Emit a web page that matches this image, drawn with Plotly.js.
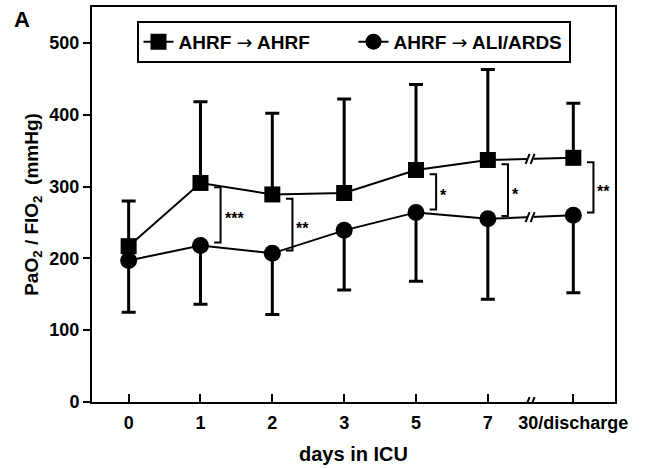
<!DOCTYPE html>
<html>
<head>
<meta charset="utf-8">
<script src="https://cdn.plot.ly/plotly-3.0.1.min.js"></script>
<style>html,body{margin:0;padding:0;background:#fff;}#chart{width:654px;height:469px;}</style>
</head>
<body>
<div id="chart"></div>
<script>
// Category labels and their axis positions (broken axis before the last one)
const dayLabels = ["0", "1", "2", "3", "5", "7", "30/discharge"];
const dayPos = [0, 1, 2, 3, 4, 5, 6.19];

// Series names
const seriesNames = ["AHRF \u2192 AHRF", "AHRF \u2192 ALI/ARDS"];

// AHRF -> AHRF (mean, SD drawn upward)
const ahrfMean = [217, 305, 289, 291, 323, 337, 340];
const ahrfSD   = [63, 113, 113, 131, 119, 126, 76];

// AHRF -> ALI/ARDS (mean, SD drawn downward)
const ardsMean = [197, 218, 207, 239, 264, 255, 260];
const ardsSD   = [72, 82, 85, 83, 96, 112, 108];

// Significance marks per day
const sigLabels = ["", "***", "**", "", "*", "*", "**"];

const FONT = "Liberation Sans, Arial, sans-serif";
const zeros = dayPos.map(() => 0);
const arrowStyled = s => s.replace("\u2192", '<span style="font-family:DejaVu Sans;font-weight:normal">\u2192</span>');

const traces = [
  {
    x: dayPos, y: ahrfMean, name: arrowStyled(seriesNames[0]), type: "scatter", mode: "lines+markers",
    line: {color: "#000", width: 2},
    marker: {symbol: "square", size: 16, color: "#000"},
    error_y: {type: "data", symmetric: false, array: ahrfSD, arrayminus: zeros, color: "#000", thickness: 3, width: 7}
  },
  {
    x: dayPos, y: ardsMean, name: arrowStyled(seriesNames[1]), type: "scatter", mode: "lines+markers",
    line: {color: "#000", width: 2},
    marker: {symbol: "circle", size: 17, color: "#000"},
    error_y: {type: "data", symmetric: false, array: zeros, arrayminus: ardsSD, color: "#000", thickness: 3, width: 7}
  }
];

const shapes = [];
const annotations = [];

// Significance brackets
sigLabels.forEach((s, i) => {
  if (!s) return;
  const xb = dayPos[i] + 0.28, xc = dayPos[i] + 0.19;
  const yt = ahrfMean[i] - 6, yb = ardsMean[i] + 4;
  shapes.push({type: "path", xref: "x", yref: "y",
    path: `M${xc},${yt} L${xb},${yt} L${xb},${yb} L${xc},${yb}`,
    line: {color: "#000", width: 2}});
  annotations.push({x: xb, y: (yt + yb) / 2, xref: "x", yref: "y", text: s, showarrow: false,
    xanchor: "left", yanchor: "middle", xshift: 2, yshift: -4,
    font: {family: FONT, size: 16, color: "#000", weight: "bold"}});
});

// Axis break marks between the last two categories
const xBreak = (dayPos[5] + dayPos[6]) / 2;
const breakYs = [0, (ahrfMean[5] + ahrfMean[6]) / 2, (ardsMean[5] + ardsMean[6]) / 2];
breakYs.forEach(yv => {
  shapes.push({type: "rect", xref: "x", yref: "y", xsizemode: "pixel", ysizemode: "pixel",
    xanchor: xBreak, yanchor: yv, x0: -3, x1: 3, y0: -3, y1: 3,
    fillcolor: "#fff", line: {width: 0}, layer: "above"});
  [-3, 2].forEach(dx => {
    shapes.push({type: "line", xref: "x", yref: "y", xsizemode: "pixel", ysizemode: "pixel",
      xanchor: xBreak, yanchor: yv, x0: dx - 2, x1: dx + 2, y0: -5, y1: 5,
      line: {color: "#000", width: 2}, layer: "above"});
  });
});

// Panel label
annotations.push({x: (22 - 92) / (654 - 92 - 39), y: (469 - 67 - 20) / (469 - 7 - 67),
  xref: "paper", yref: "paper", xanchor: "center", yanchor: "middle",
  text: "<b>A</b>", showarrow: false, font: {family: FONT, size: 22, color: "#000"}});

const layout = {
  width: 654, height: 469,
  margin: {l: 92, r: 39, t: 7, b: 67},
  paper_bgcolor: "#fff", plot_bgcolor: "#fff",
  font: {family: FONT, color: "#000", size: 18, weight: "bold"},
  showlegend: true,
  legend: {orientation: "h", x: 0.5, xanchor: "center", y: 0.965, yanchor: "top",
    bordercolor: "#000", borderwidth: 2, bgcolor: "#fff",
    font: {family: FONT, size: 19, color: "#000", weight: "bold"},
    itemwidth: 30, entrywidth: 170},
  xaxis: {
    range: [-0.51, 6.77], tickvals: dayPos, ticktext: dayLabels,
    showgrid: false, zeroline: false, showline: true, linecolor: "#000", linewidth: 2, mirror: true,
    ticks: "inside", ticklen: 8, tickwidth: 2, tickcolor: "#000", ticklabelstandoff: 3,
    tickfont: {family: FONT, size: 18, color: "#000", weight: "bold"},
    title: {text: "days in ICU", font: {family: FONT, size: 20, color: "#000", weight: "bold"}, standoff: 15}
  },
  yaxis: {
    range: [0, 550], tickvals: [0, 100, 200, 300, 400, 500],
    showgrid: false, zeroline: false, showline: true, linecolor: "#000", linewidth: 2, mirror: true,
    ticks: "outside", ticklen: 7, tickwidth: 2, tickcolor: "#000",
    tickfont: {family: FONT, size: 18, color: "#000", weight: "bold"},
    title: {text: "PaO<sub>2</sub> / FIO<sub>2</sub>&nbsp;&nbsp;(mmHg)", font: {family: FONT, size: 19, color: "#000", weight: "bold"}, standoff: 6}
  },
  shapes: shapes,
  annotations: annotations
};

Plotly.newPlot("chart", traces, layout, {displayModeBar: false, staticPlot: true});
</script>
</body>
</html>
